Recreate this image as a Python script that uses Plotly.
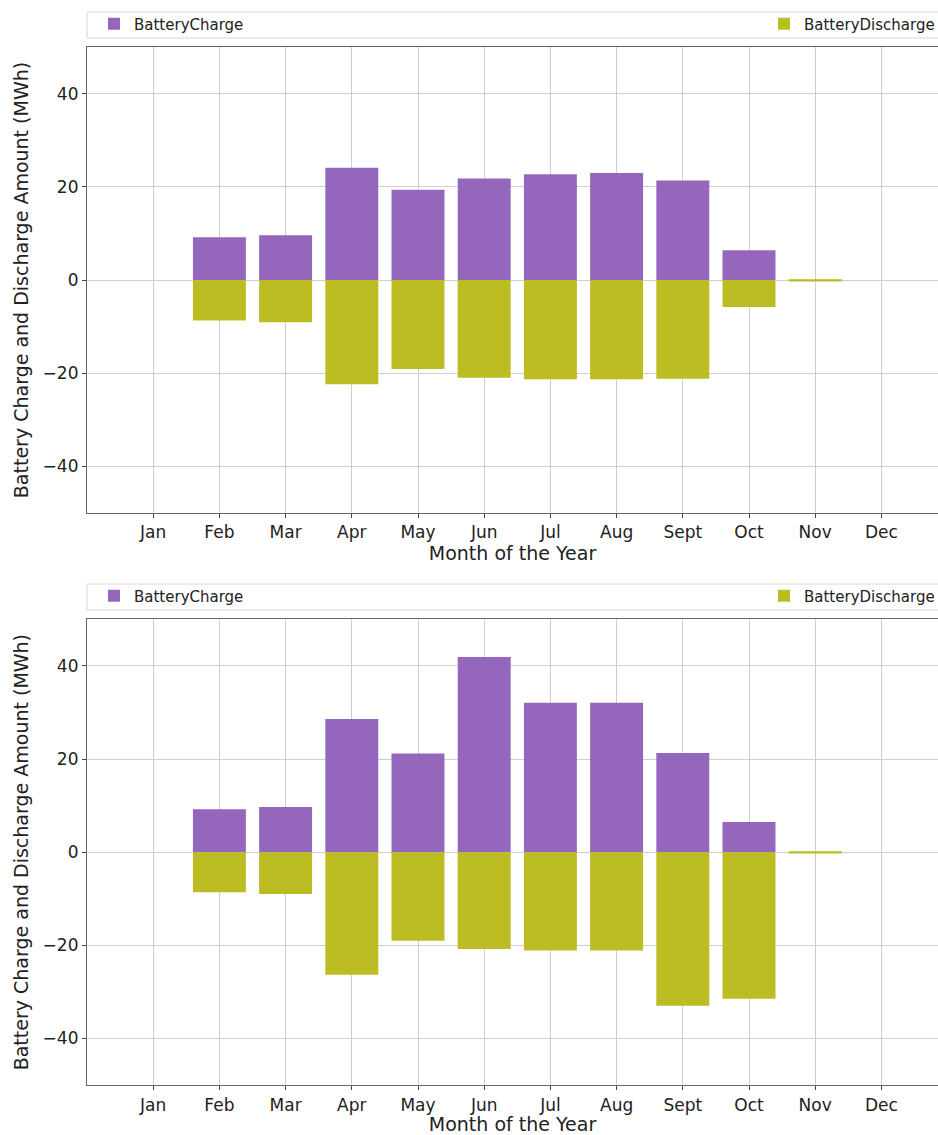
import plotly.graph_objects as go
from plotly.subplots import make_subplots

# Months on the x axis
months = ["Jan", "Feb", "Mar", "Apr", "May", "Jun",
          "Jul", "Aug", "Sept", "Oct", "Nov", "Dec"]
month_idx = list(range(1, 13))

# Scenario 1 (MWh)
charge_1 = [0.0, 9.2, 9.6, 24.1, 19.4, 21.8, 22.7, 23.0, 21.4, 6.4, 0.0, 0.0]
discharge_1 = [0.0, -8.7, -9.1, -22.4, -19.1, -21.0, -21.3, -21.3, -21.2, -5.8, -0.3, 0.0]

# Scenario 2 (MWh)
charge_2 = [0.0, 9.2, 9.7, 28.6, 21.2, 41.9, 32.1, 32.1, 21.3, 6.5, 0.0, 0.0]
discharge_2 = [0.0, -8.6, -9.0, -26.3, -19.0, -20.8, -21.1, -21.1, -33.0, -31.5, -0.3, 0.0]

y_ticks = [-40, -20, 0, 20, 40]

PURPLE = "#9467bd"
OLIVE = "#bcbd22"
FONT = "DejaVu Sans"
W, H = 938, 1135
LEFT = 87
PLOT_W = W - LEFT


def px_x(px):
    """Horizontal pixel position -> paper coordinate."""
    return (px - LEFT) / PLOT_W


def px_y(px):
    """Vertical pixel position (from top) -> paper coordinate."""
    return 1 - px / H


fig = make_subplots(rows=2, cols=1, vertical_spacing=0.05)

panels = [(charge_1, discharge_1, "legend", "legend2"),
          (charge_2, discharge_2, "legend3", "legend4")]
for row, (ch, dis, lg_c, lg_d) in enumerate(panels, start=1):
    fig.add_trace(go.Bar(x=month_idx, y=ch, name="BatteryCharge", width=0.8,
                         marker=dict(color=PURPLE, line=dict(width=0)),
                         legend=lg_c), row=row, col=1)
    fig.add_trace(go.Bar(x=month_idx, y=dis, name="BatteryDischarge", width=0.8,
                         marker=dict(color=OLIVE, line=dict(width=0)),
                         legend=lg_d), row=row, col=1)

# plot areas in pixels: (top, bottom)
areas = [(47.3, 512.7), (619.3, 1085.0)]
legend_rows = [(12, 38), (584, 610)]

for i, (top, bot) in enumerate(areas, start=1):
    fig.update_yaxes(row=i, col=1, domain=[px_y(bot), px_y(top)], range=[-50, 50],
                     tickvals=y_ticks, ticks="outside", ticklen=4,
                     tickcolor="#444", tickfont=dict(size=17, color="#222"),
                     showgrid=True, gridcolor="#cfcfcf", gridwidth=1,
                     zeroline=False, showline=True, linecolor="#666",
                     linewidth=1.2,
                     title=dict(text="Battery Charge and Discharge Amount (MWh)",
                                font=dict(size=19, color="#222"), standoff=8))
    fig.update_xaxes(row=i, col=1, domain=[0, 1], range=[0, PLOT_W / 66.2],
                     tickvals=month_idx, ticktext=months, ticks="outside",
                     ticklen=4, tickcolor="#444",
                     tickfont=dict(size=17, color="#222"),
                     showgrid=True, gridcolor="#cfcfcf", gridwidth=1,
                     zeroline=False, showline=True, mirror=True,
                     linecolor="#666", linewidth=1.2,
                     title=dict(text="Month of the Year",
                                font=dict(size=19, color="#222"), standoff=5))

# one legend per entry, spread across the width like an expanded legend row
leg_common = dict(orientation="h", xanchor="left", yanchor="middle",
                  bgcolor="rgba(0,0,0,0)", borderwidth=0,
                  font=dict(family=FONT, size=15, color="#222"))
leg_pos = {}
for k, (t, b) in enumerate(legend_rows):
    yc = px_y((t + b) / 2 - 1)
    leg_pos["legend" if k == 0 else "legend3"] = dict(x=px_x(94), y=yc, **leg_common)
    leg_pos["legend2" if k == 0 else "legend4"] = dict(x=px_x(764), y=yc, **leg_common)
    # legend frame
    fig.add_shape(type="rect", xref="paper", yref="paper",
                  x0=0, x1=px_x(W + 20), y0=px_y(b), y1=px_y(t),
                  line=dict(color="#d6d6d6", width=1), fillcolor="rgba(0,0,0,0)",
                  layer="below")

fig.update_layout(
    width=W, height=H,
    margin=dict(l=LEFT, r=0, t=0, b=0, autoexpand=False),
    barmode="relative",
    bargap=0.2,
    plot_bgcolor="white", paper_bgcolor="white",
    font=dict(family=FONT, size=17, color="#222"),
    showlegend=True,
    **leg_pos,
)

fig.write_html("out.html")
